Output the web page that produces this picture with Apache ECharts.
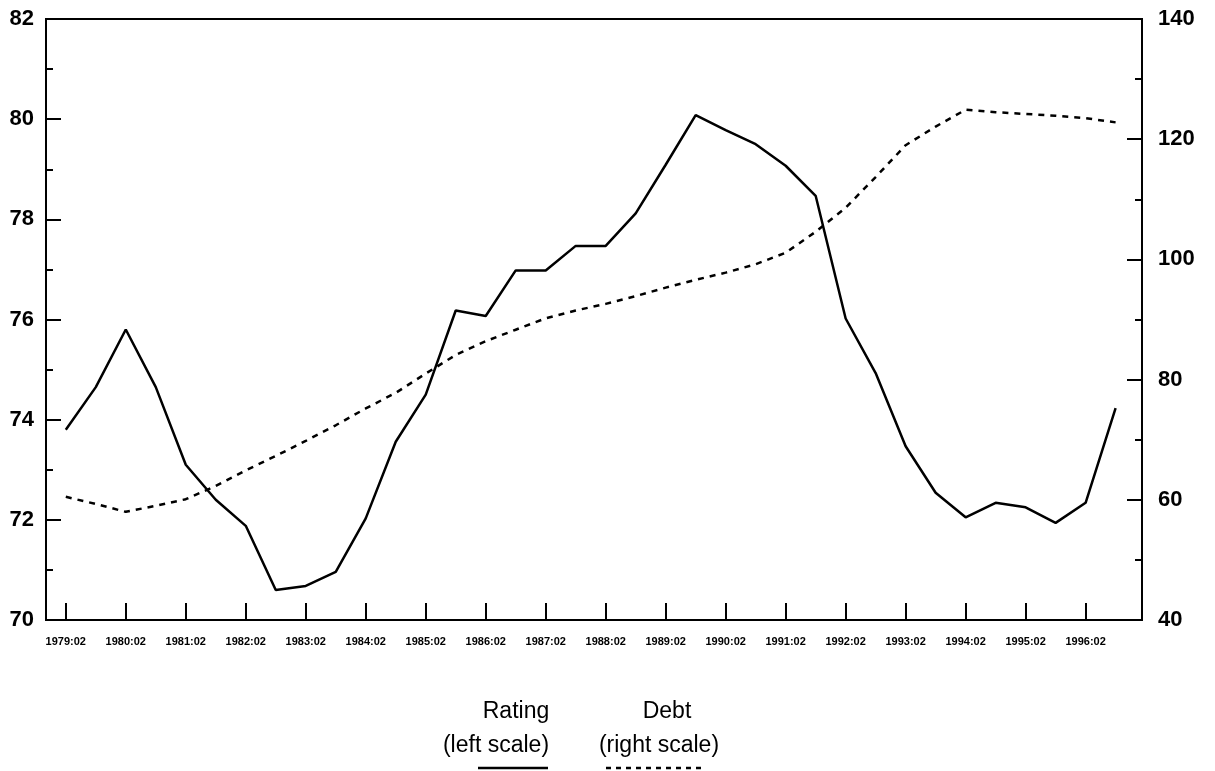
<!DOCTYPE html>
<html>
<head>
<meta charset="utf-8">
<title>Rating and Debt</title>
<script src="https://cdn.jsdelivr.net/npm/echarts@6/dist/echarts.min.js"></script>
<style>
  html, body { margin: 0; padding: 0; background: #fff; }
  #chart { width: 1215px; height: 771px; }
</style>
</head>
<body>
<div id="chart"></div>
<script>
// half-yearly observations, 1979:02 .. 1996:08
const periods = [
  '1979:02', '1979:08', '1980:02', '1980:08', '1981:02', '1981:08',
  '1982:02', '1982:08', '1983:02', '1983:08', '1984:02', '1984:08',
  '1985:02', '1985:08', '1986:02', '1986:08', '1987:02', '1987:08',
  '1988:02', '1988:08', '1989:02', '1989:08', '1990:02', '1990:08',
  '1991:02', '1991:08', '1992:02', '1992:08', '1993:02', '1993:08',
  '1994:02', '1994:08', '1995:02', '1995:08', '1996:02', '1996:08'
]

// Rating (left scale)
const rating = [
  73.8, 74.65, 75.8, 74.65, 73.1, 72.4,
  71.88, 70.6, 70.68, 70.96, 72.03, 73.56,
  74.5, 76.18, 76.07, 76.98, 76.98, 77.47,
  77.47, 78.12, 79.09, 80.08, 79.78, 79.5,
  79.07, 78.47, 76.02, 74.93, 73.47, 72.54,
  72.05, 72.34, 72.25, 71.94, 72.34, 74.23
]

// Debt (right scale)
const debt = [
  60.5, 59.3, 58.0, 59.0, 60.1, 62.3,
  64.9, 67.3, 69.8, 72.4, 75.2, 77.8,
  81.0, 84.1, 86.4, 88.3, 90.2, 91.5,
  92.6, 93.9, 95.3, 96.6, 97.8, 99.2,
  101.1, 104.6, 108.6, 113.7, 119.0, 122.1,
  124.9, 124.5, 124.2, 123.9, 123.5, 122.8
]

// x-axis tick labels (one per year)
const yearLabels = [
  '1979:02', '1980:02', '1981:02', '1982:02', '1983:02', '1984:02',
  '1985:02', '1986:02', '1987:02', '1988:02', '1989:02', '1990:02',
  '1991:02', '1992:02', '1993:02', '1994:02', '1995:02', '1996:02'
]

const tickIdx = yearLabels.map((l) => periods.indexOf(l))
const toPairs = (arr) => arr.map((v, i) => [i, v])

const font = 'Liberation Sans, Arial, Helvetica, sans-serif'

const myChart = echarts.init(document.getElementById('chart'), null, { renderer: 'canvas' })

const yAxisBase = (pos, min, max, interval, margin) => ({
  type: 'value',
  position: pos,
  min,
  max,
  interval,
  splitLine: { show: false },
  axisLine: { show: true, onZero: false, lineStyle: { color: '#000', width: 2 } },
  axisTick: { inside: true, length: 15, lineStyle: { color: '#000', width: 2 } },
  minorTick: { show: true, splitNumber: 2, length: 7, lineStyle: { color: '#000', width: 2 } },
  axisLabel: { color: '#000', fontFamily: font, fontWeight: 'bold', fontSize: 22, margin }
})

const textStyle = (text) => ({
  text,
  fill: '#000',
  font: '23px ' + font,
  align: 'center',
  verticalAlign: 'middle'
})

const options = {
  backgroundColor: '#fff',
  animation: false,
  grid: {
    left: 46,
    right: 73,
    top: 19,
    bottom: 151,
    show: true,
    borderColor: '#000',
    borderWidth: 2
  },
  xAxis: {
    type: 'value',
    min: -0.66,
    max: 35.88,
    splitLine: { show: false },
    axisLine: { show: true, onZero: false, lineStyle: { color: '#000', width: 2 } },
    axisTick: {
      show: true,
      inside: true,
      length: 17,
      customValues: tickIdx,
      lineStyle: { color: '#000', width: 2 }
    },
    axisLabel: {
      customValues: tickIdx,
      formatter: (v) => periods[Math.round(v)],
      color: '#000',
      fontFamily: font,
      fontWeight: 'bold',
      fontSize: 11,
      margin: 16
    }
  },
  yAxis: [
    yAxisBase('left', 70, 82, 2, 12),
    yAxisBase('right', 40, 140, 20, 16)
  ],
  series: [
    {
      name: 'Rating',
      type: 'line',
      yAxisIndex: 0,
      data: toPairs(rating),
      showSymbol: false,
      lineStyle: { color: '#000', width: 2.5 }
    },
    {
      name: 'Debt',
      type: 'line',
      yAxisIndex: 1,
      data: toPairs(debt),
      showSymbol: false,
      lineStyle: { color: '#000', width: 2.5, type: [6, 6] }
    }
  ],
  // legend drawn as in the original: two-line captions with a line sample underneath
  graphic: [
    { type: 'text', x: 516, y: 712, style: textStyle('Rating') },
    { type: 'text', x: 496, y: 746, style: textStyle('(left scale)') },
    { type: 'text', x: 667, y: 712, style: textStyle('Debt') },
    { type: 'text', x: 659, y: 746, style: textStyle('(right scale)') },
    { type: 'line', shape: { x1: 478, y1: 768, x2: 548, y2: 768 }, style: { stroke: '#000', lineWidth: 2.5 } },
    { type: 'line', shape: { x1: 606, y1: 768, x2: 706, y2: 768 }, style: { stroke: '#000', lineWidth: 2.5, lineDash: [5, 5] } }
  ]
}

myChart.setOption(options)
window.addEventListener('resize', () => myChart.resize())
</script>
</body>
</html>
